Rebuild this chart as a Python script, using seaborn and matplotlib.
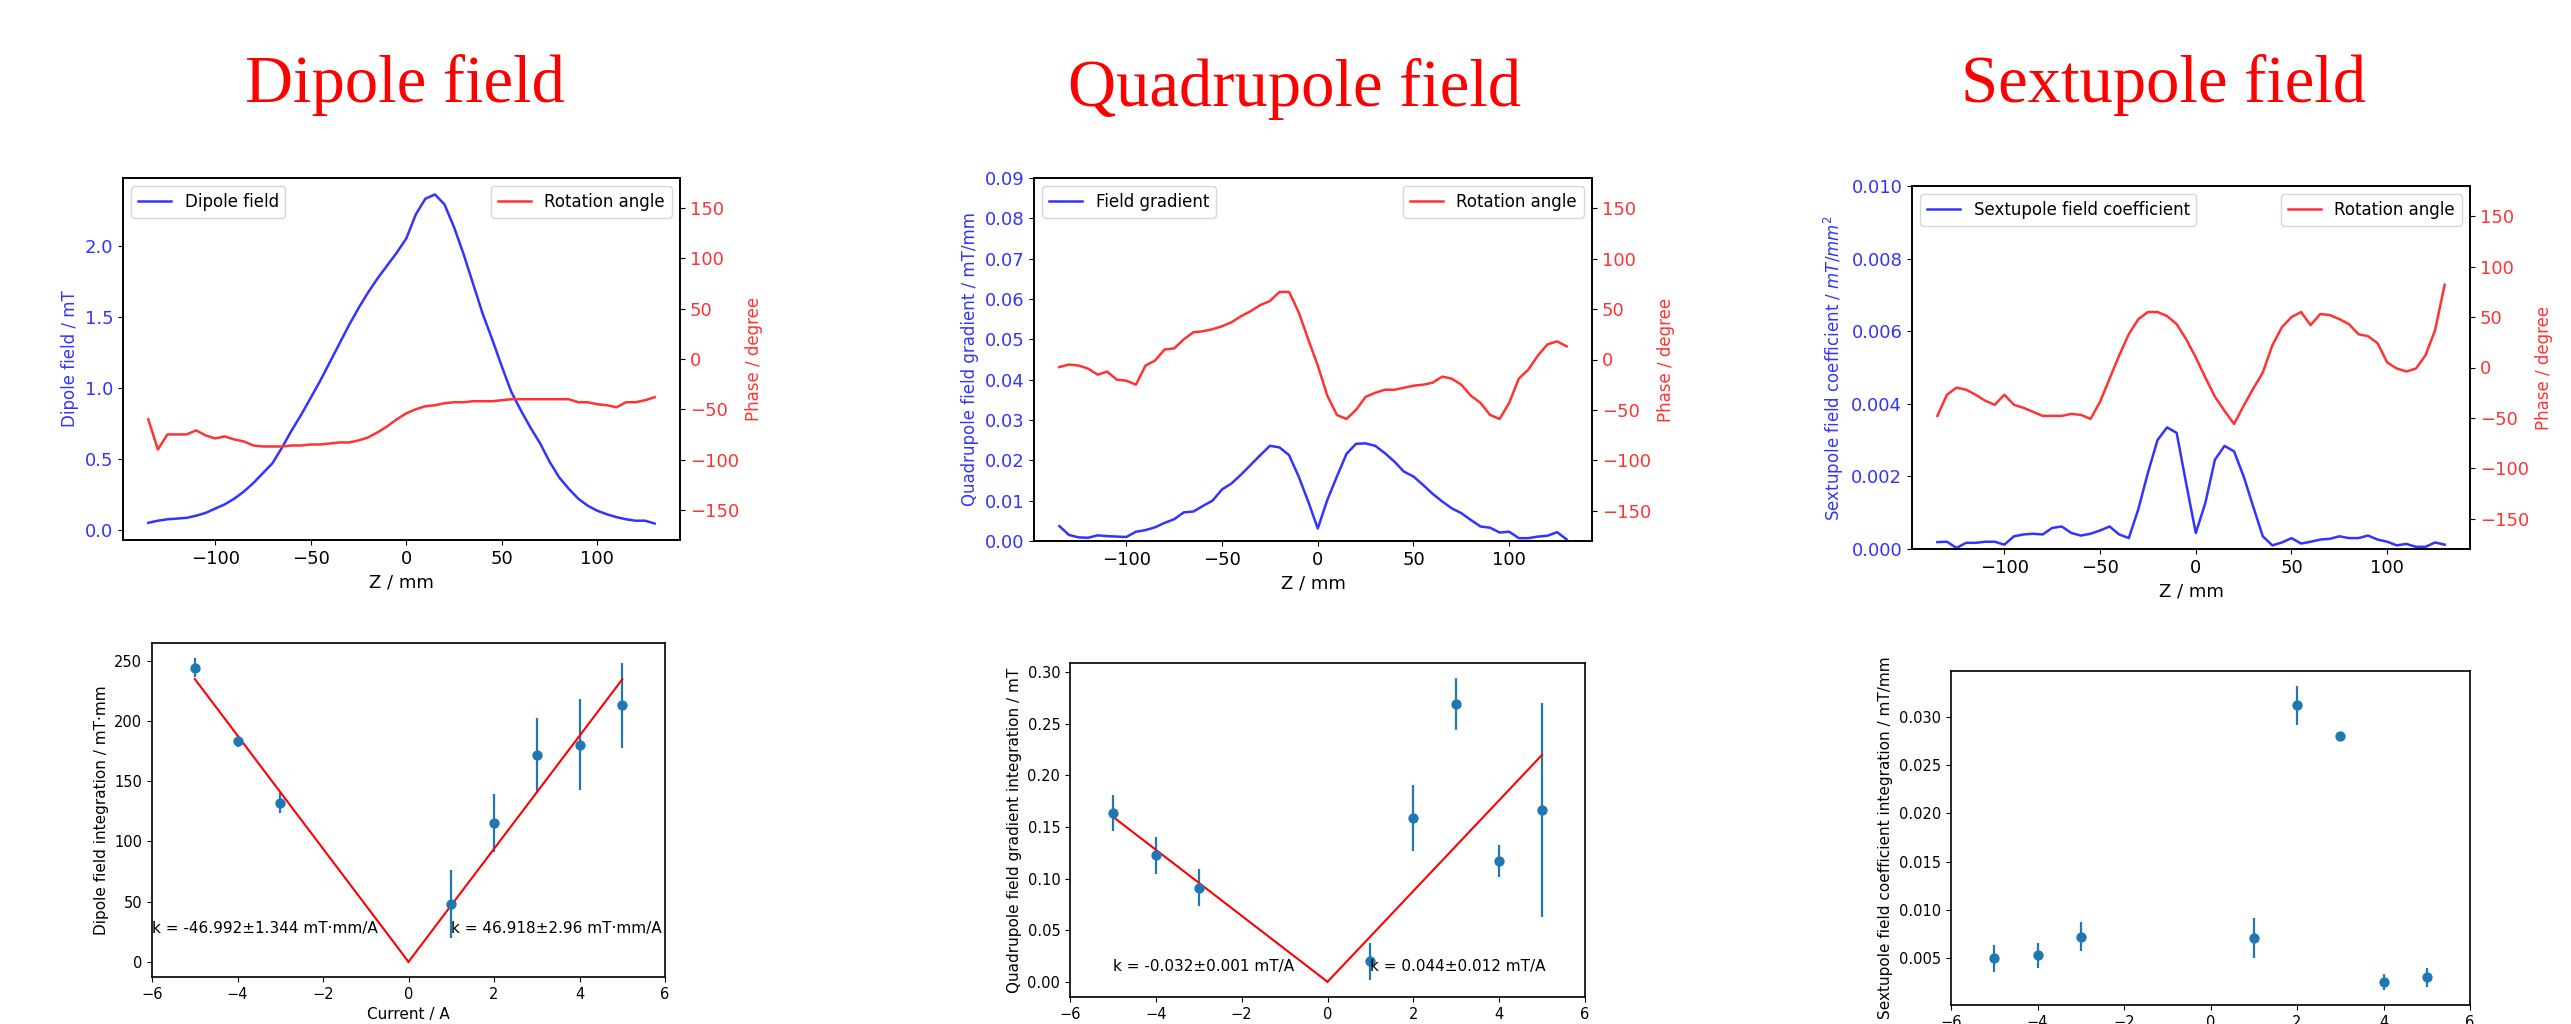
import numpy as np
import matplotlib
matplotlib.use("Agg")
import matplotlib.pyplot as plt
import seaborn as sns

# ---------------- data ----------------
z_mm = list(range(-135, 135, 5))

dipole_field = [0.05, 0.065, 0.075, 0.08, 0.085, 0.10, 0.12, 0.15, 0.18, 0.22,
                0.27, 0.33, 0.40, 0.47, 0.58, 0.70, 0.81, 0.93, 1.05, 1.18,
                1.31, 1.44, 1.56, 1.67, 1.77, 1.86, 1.95, 2.05, 2.22, 2.33,
                2.36, 2.29, 2.13, 1.94, 1.73, 1.52, 1.34, 1.15, 0.97, 0.84,
                0.72, 0.61, 0.48, 0.37, 0.29, 0.22, 0.17, 0.135, 0.11, 0.09,
                0.075, 0.065, 0.065, 0.045]
dipole_angle = [-60, -90, -75, -75, -75, -71, -76, -79, -77, -80,
                -82, -86, -87, -87, -87, -86, -86, -85, -85, -84,
                -83, -83, -81, -78, -73, -67, -60, -54, -50, -47,
                -46, -44, -43, -43, -42, -42, -42, -41, -40, -40,
                -40, -40, -40, -40, -40, -43, -43, -45, -46, -48,
                -43, -43, -41, -38]

quad_gradient = [0.0037, 0.0015, 0.0009, 0.0008, 0.0014, 0.0012, 0.0011, 0.0010, 0.0023, 0.0027,
                 0.0034, 0.0045, 0.0054, 0.0071, 0.0073, 0.0087, 0.0100, 0.0128, 0.0143, 0.0165,
                 0.0189, 0.0213, 0.0236, 0.0232, 0.0213, 0.0160, 0.0098, 0.0031, 0.0102, 0.0160,
                 0.0216, 0.0241, 0.0242, 0.0236, 0.0218, 0.0197, 0.0172, 0.0160, 0.0139, 0.0117,
                 0.0098, 0.0081, 0.0069, 0.0052, 0.0036, 0.0033, 0.0021, 0.0023, 0.0007, 0.0007,
                 0.0011, 0.0013, 0.0022, 0.0004]
quad_angle = [-7.5, -5, -6, -9, -15, -12, -20, -21, -25, -6,
              -1, 10, 11, 20, 27, 28, 30, 33, 37, 43,
              48, 54, 58, 67, 67, 47, 20, -6, -36, -55,
              -59, -50, -37, -33, -30, -30, -28, -26, -25, -23,
              -17, -19, -25, -36, -43, -55, -59, -43, -19, -10,
              4, 15, 18, 13]

sext_coeff = [0.00019, 0.0002, 0.00003, 0.00017, 0.00017, 0.0002, 0.0002, 0.00012, 0.00035, 0.0004,
              0.00042, 0.0004, 0.00058, 0.00062, 0.00044, 0.00037, 0.00042, 0.00051, 0.00062, 0.0004,
              0.0003, 0.0011, 0.0021, 0.0030, 0.00335, 0.0032, 0.0018, 0.00044, 0.00127, 0.00246,
              0.00284, 0.00269, 0.0020, 0.00117, 0.00035, 0.0001, 0.00018, 0.0003, 0.00015, 0.0002,
              0.00026, 0.00028, 0.00035, 0.0003, 0.0003, 0.00037, 0.00026, 0.0002, 0.0001, 0.00014,
              0.00006, 0.00006, 0.00018, 0.00012]
sext_angle = [-48, -27, -20, -22, -27, -33, -37, -27, -37, -40,
              -44, -48, -48, -48, -46, -47, -51, -34, -11, 12,
              33, 48, 55, 55, 51, 43, 28, 10, -10, -29,
              -43, -56, -38, -21, -5, 22, 40, 50, 55, 42,
              53, 52, 48, 43, 33, 31, 24, 5, -1, -4,
              -1, 12, 37, 82]

current_A = [-5, -4, -3, 1, 2, 3, 4, 5]
dipole_int = [244.2, 183.3, 132.0, 48.0, 115.5, 171.6, 180.5, 213.0]
dipole_int_err = [8, 5, 8, 28, 24, 31, 38, 35]
quad_int = [0.1638, 0.1227, 0.0913, 0.020, 0.1586, 0.2693, 0.117, 0.1667]
quad_int_err = [0.0175, 0.018, 0.018, 0.018, 0.032, 0.025, 0.0155, 0.104]
sext_int = [0.0050, 0.0053, 0.0072, 0.0071, 0.0312, 0.0280, 0.0025, 0.0030]
sext_int_err = [0.0014, 0.0013, 0.0015, 0.0021, 0.0020, 0.0003, 0.0008, 0.0010]

dipole_k = [-46.992, 46.918]
quad_k = [-0.032, 0.044]
dipole_k_text = ["k = -46.992±1.344 mT·mm/A", "k = 46.918±2.96 mT·mm/A"]
quad_k_text = ["k = -0.032±0.001 mT/A", "k = 0.044±0.012 mT/A"]

titles = ["Dipole field", "Quadrupole field", "Sextupole field"]

# ---------------- style ----------------
plt.rcParams['font.family'] = ['DejaVu Sans']
plt.rcParams['axes.linewidth'] = 1.2
plt.rcParams['legend.fancybox'] = True

BLUE = '#3333ff'
RED = '#ff3333'
PT = '#1f77b4'

W, H = 2571, 1024
fig = plt.figure(figsize=(W / 100, H / 100), dpi=100)


def rect(x0, y0, x1, y1):
    return [x0 / W, 1 - y1 / H, (x1 - x0) / W, (y1 - y0) / H]


TOP_TICK = 13
TOP_LAB = 12
LEG = 12


def top_panel(r, vals, angle, leg_label, ylabel, ylim=None, yticks=None):
    ax = fig.add_axes(rect(*r))
    sns.lineplot(x=z_mm, y=vals, ax=ax, color=BLUE, lw=1.8, label=leg_label)
    ax.legend(loc='upper left', fontsize=LEG, frameon=True)
    ax.set_xticks([-100, -50, 0, 50, 100])
    if ylim is not None:
        ax.set_ylim(*ylim)
    if yticks is not None:
        ax.set_yticks(yticks)
    ax.tick_params(axis='y', labelcolor=BLUE, labelsize=TOP_TICK)
    ax.tick_params(axis='x', labelsize=TOP_TICK)
    ax.set_ylabel(ylabel, color=BLUE, fontsize=TOP_LAB)
    ax.set_xlabel('Z / mm', fontsize=TOP_LAB + 1)
    ax2 = ax.twinx()
    sns.lineplot(x=z_mm, y=angle, ax=ax2, color=RED, lw=1.8, label='Rotation angle')
    ax2.legend(loc='upper right', fontsize=LEG, frameon=True)
    ax2.set_ylim(-180, 180)
    ax2.set_yticks([-150, -100, -50, 0, 50, 100, 150])
    ax2.tick_params(axis='y', labelcolor=RED, labelsize=TOP_TICK)
    ax2.set_ylabel('Phase / degree', color=RED, fontsize=TOP_LAB)
    return ax, ax2


top_panel((123, 178, 680, 540), dipole_field, dipole_angle, 'Dipole field',
          'Dipole field / mT')
top_panel((1034, 178, 1592, 541), quad_gradient, quad_angle, 'Field gradient',
          'Quadrupole field gradient / mT/mm', ylim=(0, 0.09),
          yticks=np.arange(0, 0.0901, 0.01))
top_panel((1912, 186, 2470, 549), sext_coeff, sext_angle, 'Sextupole field coefficient',
          'Sextupole field coefficient / $mT/mm^2$', ylim=(0, 0.010),
          yticks=np.arange(0, 0.01001, 0.002))

BOT_TICK = 10.5
BOT_LAB = 11


def bottom_panel(r, vals, errs, ylabel, k=None, ktext=None, ky=None, kx=None):
    ax = fig.add_axes(rect(*r))
    ax.errorbar(current_A, vals, yerr=errs, fmt='none', ecolor=PT, elinewidth=1.6)
    sns.scatterplot(x=current_A, y=vals, ax=ax, color=PT, s=55, linewidth=0, zorder=3)
    if k is not None:
        xn = np.array([-5, 0])
        xp = np.array([0, 5])
        sns.lineplot(x=xn, y=k[0] * xn, ax=ax, color='red', lw=1.5)
        sns.lineplot(x=xp, y=k[1] * xp, ax=ax, color='red', lw=1.5)
        ax.text(kx[0], ky, ktext[0], fontsize=BOT_TICK + 0.5, va='center', ha='left')
        ax.text(kx[1], ky, ktext[1], fontsize=BOT_TICK + 0.5, va='center', ha='left')
    ax.set_xlim(-6, 6)
    ax.set_xticks([-6, -4, -2, 0, 2, 4, 6])
    ax.tick_params(labelsize=BOT_TICK)
    ax.set_ylabel(ylabel, fontsize=BOT_LAB)
    ax.set_xlabel('Current / A', fontsize=BOT_LAB)
    return ax


bottom_panel((152, 643, 665, 977), dipole_int, dipole_int_err,
             'Dipole field integration / mT·mm', k=dipole_k, ktext=dipole_k_text,
             ky=28, kx=[-6, 1])
bottom_panel((1070, 663, 1585, 997), quad_int, quad_int_err,
             'Quadrupole field gradient integration / mT', k=quad_k, ktext=quad_k_text,
             ky=0.015, kx=[-5, 1])
bottom_panel((1951, 671, 2470, 1005), sext_int, sext_int_err,
             'Sextupole field coefficient integration / mT/mm')

# titles
for cx, by, t in [(405, 102, titles[0]), (1295, 106, titles[1]), (2164, 102, titles[2])]:
    fig.text(cx / W, 1 - by / H, t, ha='center', va='baseline', fontsize=48,
             family=['Liberation Serif', 'DejaVu Serif'], color='red')

fig.savefig('out.png', dpi=100)
